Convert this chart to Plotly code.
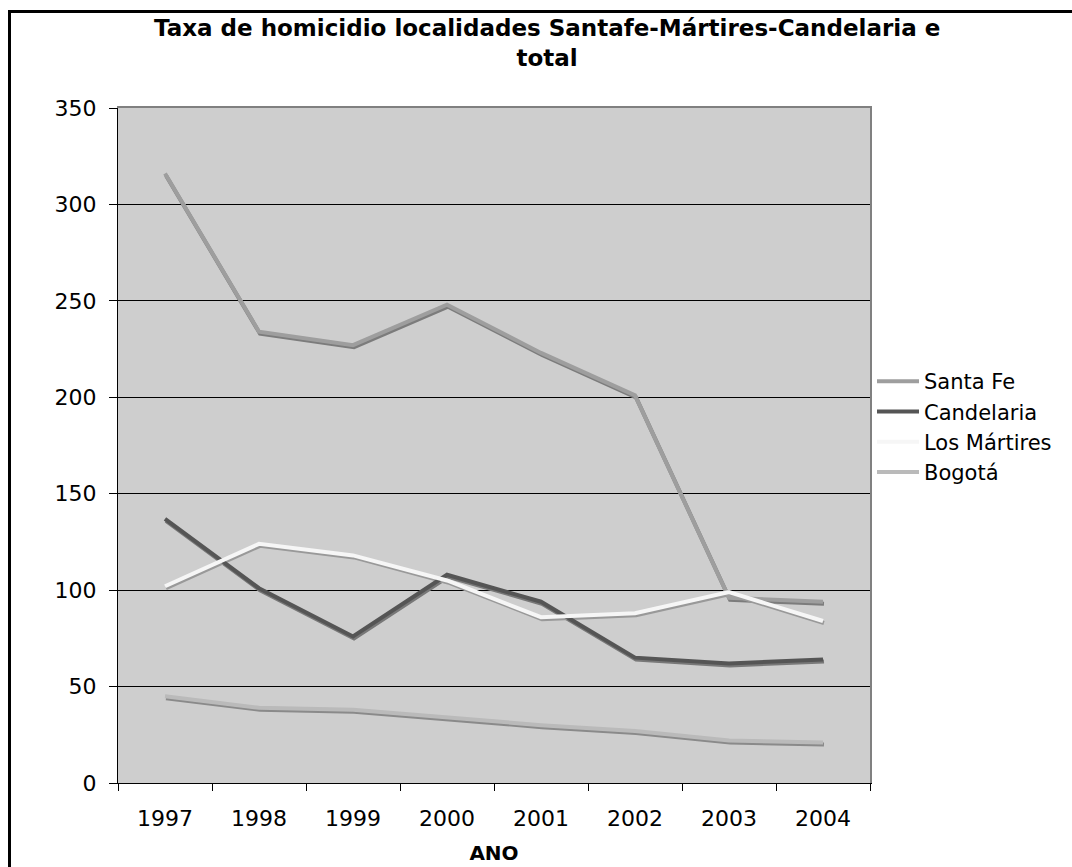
import plotly.graph_objects as go

# Homicide rates per locality, 1997-2004
years = ["1997", "1998", "1999", "2000", "2001", "2002", "2003", "2004"]
santa_fe = [316, 234, 227, 248, 223, 201, 96, 94]
candelaria = [137, 101, 76, 108, 94, 65, 62, 64]
los_martires = [102, 124, 118, 105, 86, 88, 99, 84]
bogota = [45, 39, 38, 34, 30, 27, 22, 21]

y_ticks = [0, 50, 100, 150, 200, 250, 300, 350]

series = [
    ("Santa Fe", santa_fe, "#9e9e9e", "#7c7c7c"),
    ("Candelaria", candelaria, "#555555", "#787878"),
    ("Los Mártires", los_martires, "#f6f6f6", "#999999"),
    ("Bogotá", bogota, "#bababa", "#8a8a8a"),
]

W, H = 1072, 867
L, R, T, B = 118, 202, 108, 84
pw, ph = W - L - R, H - T - B

# shadow offset in pixels, converted to axis units
dx_px, dy_px = 1.0, 2.0
dx = dx_px / (pw / 8)
dy = dy_px / (ph / 350)


def px_to_paper_y(py):
    return (H - B - py) / ph


def px_to_paper_x(px):
    return (px - L) / pw


fig = go.Figure()

# drop shadows on the base axis pair, whose ranges are nudged a few pixels
for name, vals, main, shadow in series:
    fig.add_trace(go.Scatter(
        x=years, y=vals, mode="lines", xaxis="x", yaxis="y",
        line=dict(color=shadow, width=4), showlegend=False, hoverinfo="skip",
    ))

# main lines on the overlay axis pair, which carries the visible scale
for name, vals, main, shadow in series:
    fig.add_trace(go.Scatter(
        x=years, y=vals, mode="lines", name=name, xaxis="x2", yaxis="y2",
        line=dict(color=main, width=4),
    ))

font_family = "DejaVu Sans, Verdana, sans-serif"

fig.update_layout(
    width=W, height=H,
    margin=dict(l=L, r=R, t=T, b=B, autoexpand=False),
    paper_bgcolor="white",
    plot_bgcolor="#cecece",
    font=dict(family=font_family, size=22, color="black"),
    # base axes: shifted ranges for the shadow, gray frame on top/right
    xaxis=dict(
        type="category", side="top",
        range=[-0.5 - dx, 7.5 - dx],
        showline=True, linecolor="#808080", linewidth=2,
        showticklabels=False, ticks="", showgrid=False, zeroline=False,
    ),
    yaxis=dict(
        side="right",
        range=[0 + dy, 350 + dy],
        showline=True, linecolor="#808080", linewidth=2,
        showticklabels=False, ticks="", showgrid=False, zeroline=False,
    ),
    # visible scale
    xaxis2=dict(
        type="category", overlaying="x", side="bottom", range=[-0.5, 7.5],
        showline=True, linecolor="black", linewidth=1,
        ticks="outside", ticklen=7, tickcolor="black", tickson="boundaries",
        showgrid=False, zeroline=False,
        tickfont=dict(size=22), ticklabelstandoff=16,
        title=dict(text="<b>ANO</b>", font=dict(size=20), standoff=15),
    ),
    yaxis2=dict(
        overlaying="y", side="left",
        range=[0, 350], tickvals=y_ticks,
        showline=True, linecolor="black", linewidth=1,
        ticks="outside", ticklen=8, tickcolor="black",
        showgrid=True, gridcolor="black", gridwidth=1, zeroline=False,
        tickfont=dict(size=22), ticklabelstandoff=8,
    ),
    legend=dict(
        x=px_to_paper_x(872), xanchor="left",
        y=px_to_paper_y(427), yanchor="middle",
        bgcolor="white", borderwidth=0,
        font=dict(size=21, family=font_family),
        itemwidth=42, tracegroupgap=0,
    ),
    showlegend=True,
)

# chart title
fig.add_annotation(
    text="<b>Taxa de homicidio localidades Santafe-Mártires-Candelaria e<br>total</b>",
    xref="paper", yref="paper",
    x=px_to_paper_x(547), y=px_to_paper_y(43),
    xanchor="center", yanchor="middle", showarrow=False,
    font=dict(size=23, family=font_family, color="black"),
)

# outer chart frame (extends past the right and bottom edges)
fig.add_shape(
    type="rect", xref="paper", yref="paper",
    x0=px_to_paper_x(9.5), x1=px_to_paper_x(W + 20),
    y0=px_to_paper_y(H + 20), y1=px_to_paper_y(11.5),
    line=dict(color="black", width=3), fillcolor="rgba(0,0,0,0)",
)

fig.write_html("out.html")
